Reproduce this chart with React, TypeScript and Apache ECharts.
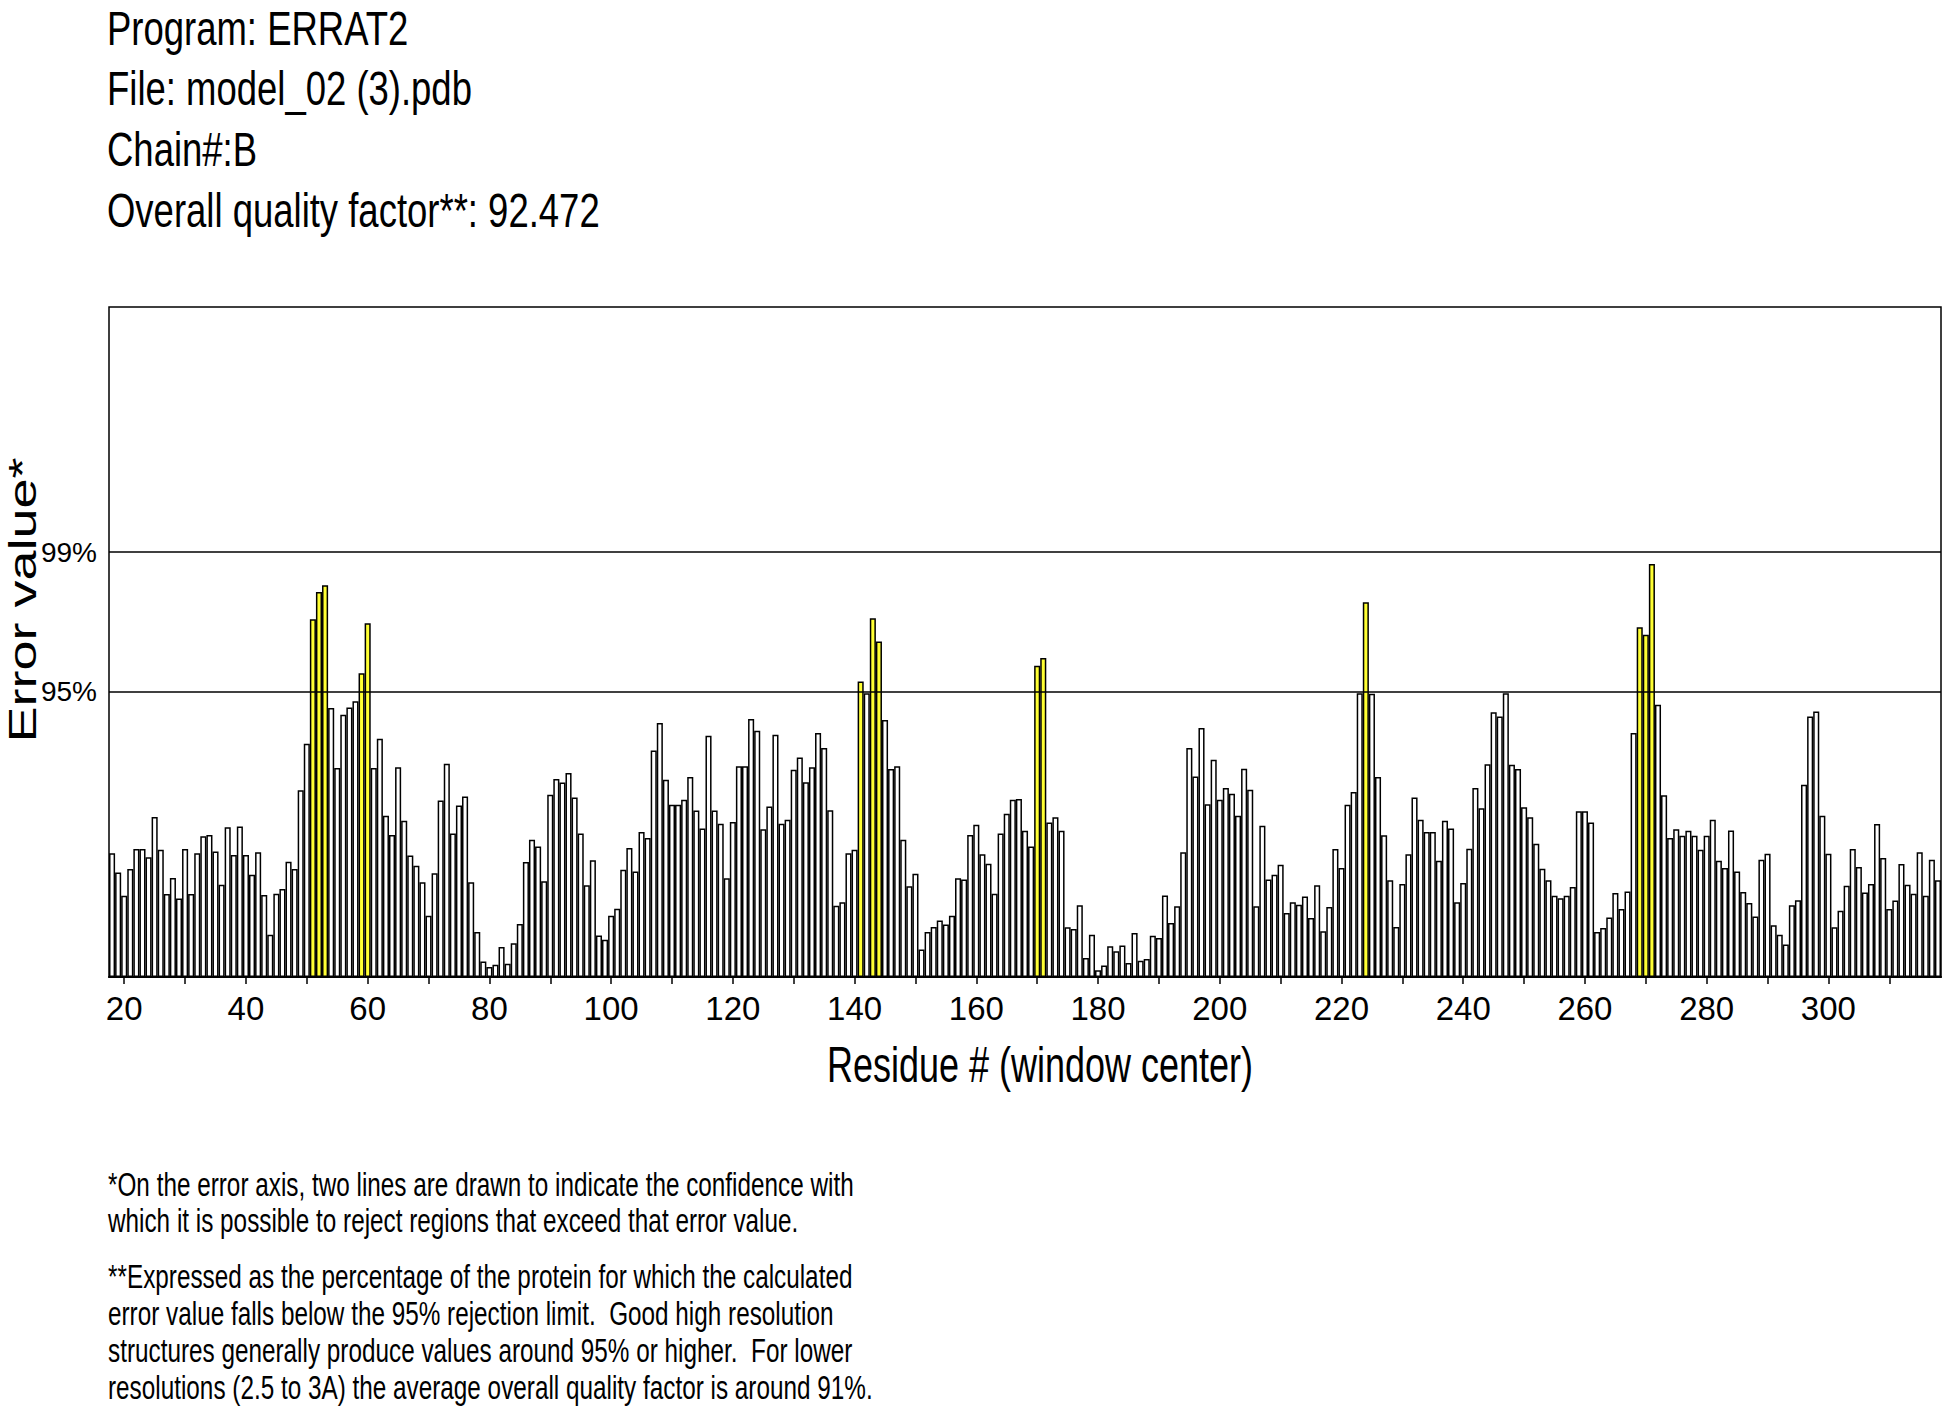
import React, { useEffect, useRef } from "react";
import * as echarts from "echarts";

// ERRAT2 error values per residue (window center), residues 18..318
const FIRST_RESIDUE = 18;
const errA = [
  5.01, 4.23, 3.29, 4.37, 5.18, 5.18, 4.84, 6.47, 5.15, 3.36,
  4.0, 3.18, 5.18, 3.36, 5.01, 5.69, 5.74, 5.08, 3.73, 6.06,
  4.93, 6.09, 4.93, 4.14, 5.05, 3.32, 1.71, 3.37, 3.56, 4.66,
  4.37, 7.55, 9.43, 14.47, 15.57, 15.85, 10.88, 8.45, 10.61, 10.9,
  11.15, 12.29, 14.31, 8.45, 9.64, 6.52, 5.74, 8.48, 6.32, 4.91,
]; // 18..67
const errB = [
  4.5, 3.83, 2.48, 4.2, 7.14, 8.63, 5.8, 6.94, 7.3, 3.83,
  1.82, 0.63, 0.4, 0.5, 1.21, 0.54, 1.37, 2.14, 4.65, 5.55,
  5.28, 3.87, 7.37, 8.01, 7.87, 8.25, 7.26, 5.8, 3.71, 4.72,
  1.68, 1.51, 2.48, 2.76, 4.34, 5.22, 4.27, 5.86, 5.62, 9.16,
  10.27, 7.98, 6.97, 6.97, 7.17, 8.09, 6.73, 6.01, 9.76, 6.73,
]; // 68..117
const errC = [
  6.2, 3.99, 6.27, 8.52, 8.52, 10.44, 9.96, 5.98, 6.9, 9.8,
  6.2, 6.36, 8.38, 8.88, 7.88, 8.48, 9.87, 9.26, 6.74, 2.88,
  3.02, 5.01, 5.15, 11.95, 11.48, 14.51, 13.57, 10.4, 8.41, 8.52,
  5.55, 3.67, 4.18, 1.11, 1.82, 2.02, 2.29, 2.12, 2.48, 3.99,
  3.94, 5.74, 6.16, 4.97, 4.58, 3.37, 5.8, 6.6, 7.17, 7.2,
]; // 118..167
const errD = [
  5.92, 5.28, 12.59, 12.9, 6.25, 6.46, 5.92, 2.01, 1.94, 2.9,
  0.77, 1.71, 0.27, 0.47, 1.24, 1.04, 1.27, 0.57, 1.78, 0.66,
  0.73, 1.67, 1.58, 3.3, 2.18, 2.86, 5.05, 9.26, 8.11, 10.07,
  6.99, 8.79, 7.17, 7.64, 7.41, 6.52, 8.42, 7.57, 2.86, 6.12,
  3.94, 4.14, 4.54, 2.59, 3.02, 2.92, 3.26, 2.39, 3.71, 1.85,
]; // 168..217
const errE = [
  2.83, 5.18, 4.41, 6.97, 7.48, 11.48, 15.16, 11.46, 8.09, 5.73,
  3.91, 2.02, 3.76, 4.97, 7.26, 6.36, 5.86, 5.86, 4.7, 6.32,
  6.01, 3.02, 3.8, 5.19, 7.64, 6.83, 8.61, 10.71, 10.54, 11.48,
  8.58, 8.41, 6.87, 6.46, 5.39, 4.38, 3.91, 3.29, 3.19, 3.29,
  3.64, 6.7, 6.7, 6.25, 1.82, 1.98, 2.41, 3.4, 2.75, 3.46,
]; // 218..267
const errF = [
  9.87, 14.15, 13.84, 16.7, 11.01, 7.35, 5.62, 5.98, 5.71, 5.92,
  5.71, 5.15, 5.71, 6.36, 4.7, 4.41, 5.93, 4.27, 3.44, 2.99,
  2.45, 4.74, 4.99, 2.09, 1.71, 1.31, 2.9, 3.1, 7.78, 10.54,
  10.74, 6.52, 4.99, 2.01, 2.68, 3.69, 5.18, 4.45, 3.42, 3.76,
  6.19, 4.81, 2.75, 3.09, 4.57, 3.73, 3.37, 5.05, 3.29, 4.74,
  3.91,
]; // 268..318

const errorValues = [...errA, ...errB, ...errC, ...errD, ...errE, ...errF];
const residues = errorValues.map((_, i) => String(FIRST_RESIDUE + i));

const LIMIT_95 = 11.526;
const LIMIT_99 = 17.19;
const Y_MAX = 27.1;
const limitLines = [
  { name: "95%", value: LIMIT_95 },
  { name: "99%", value: LIMIT_99 },
];

const titleLines = [
  "Program: ERRAT2",
  "File: model_02 (3).pdb",
  "Chain#:B",
  "Overall quality factor**: 92.472",
];
const footnoteLines = [
  "*On the error axis, two lines are drawn to indicate the confidence with",
  "which it is possible to reject regions that exceed that error value.",
  "**Expressed as the percentage of the protein for which the calculated",
  "error value falls below the 95% rejection limit.  Good high resolution",
  "structures generally produce values around 95% or higher.  For lower",
  "resolutions (2.5 to 3A) the average overall quality factor is around 91%.",
];
const xAxisName = "Residue # (window center)";
const yAxisName = "Error value*";

const FONT = "'Liberation Sans', Arial, Helvetica, sans-serif";

export default function App() {
  const ref = useRef<HTMLDivElement>(null);

  useEffect(() => {
    if (!ref.current) return;
    const chart = echarts.init(ref.current, null, { renderer: "svg" });

    const titleY = [28, 88, 149, 210];
    const footY = [1184, 1220, 1276, 1313, 1350, 1387];

    const graphic: any[] = [];
    titleLines.forEach((t, i) => {
      graphic.push({
        type: "text",
        x: 107,
        y: titleY[i],
        scaleX: 0.76,
        style: {
          text: t,
          fontSize: 48,
          fontFamily: FONT,
          fill: "#000",
          textAlign: "left",
          textVerticalAlign: "middle",
          verticalAlign: "middle",
        },
      });
    });
    footnoteLines.forEach((t, i) => {
      graphic.push({
        type: "text",
        x: 108,
        y: footY[i],
        scaleX: 0.715,
        style: {
          text: t,
          fontSize: 34,
          fontFamily: FONT,
          fill: "#000",
          textAlign: "left",
          textVerticalAlign: "middle",
          verticalAlign: "middle",
        },
      });
    });
    graphic.push({
      type: "text",
      x: 1040,
      y: 1065,
      scaleX: 0.72,
      style: {
        text: xAxisName,
        fontSize: 50,
        fontFamily: FONT,
        fill: "#000",
        textAlign: "center",
        textVerticalAlign: "middle",
        verticalAlign: "middle",
      },
    });
    graphic.push({
      type: "text",
      x: 22,
      y: 600,
      rotation: Math.PI / 2,
      scaleY: 0.72,
      style: {
        text: yAxisName,
        fontSize: 54,
        fontFamily: FONT,
        fill: "#000",
        textAlign: "center",
        textVerticalAlign: "middle",
        verticalAlign: "middle",
      },
    });

    const option: any = {
      animation: false,
      backgroundColor: "#ffffff",
      grid: {
        left: 109,
        right: 3,
        top: 307,
        bottom: 433,
        show: true,
        borderColor: "#000",
        borderWidth: 1.5,
        backgroundColor: "transparent",
        containLabel: false,
        outerBoundsMode: "none",
      },
      xAxis: {
        type: "category",
        data: residues,
        boundaryGap: true,
        axisLine: { show: true, lineStyle: { color: "#000", width: 2 } },
        axisTick: {
          show: true,
          alignWithLabel: true,
          interval: (_i: number, v: string) => Number(v) % 10 === 0,
          length: 7,
          lineStyle: { color: "#000", width: 1.5 },
        },
        axisLabel: {
          show: true,
          interval: (_i: number, v: string) => Number(v) % 20 === 0,
          color: "#000",
          fontSize: 33,
          fontFamily: FONT,
          margin: 15,
        },
        splitLine: { show: false },
      },
      yAxis: {
        type: "value",
        min: 0,
        max: Y_MAX,
        axisLine: { show: false },
        axisTick: { show: false },
        axisLabel: { show: false },
        splitLine: { show: false },
      },
      series: [
        {
          type: "bar",
          data: errorValues.map((v) => ({
            value: v,
            itemStyle: {
              color: v > LIMIT_99 ? "#ff0000" : v > LIMIT_95 ? "#ffff33" : "#ffffff",
            },
          })),
          barWidth: "100%",
          barCategoryGap: "0%",
          itemStyle: { borderColor: "#000", borderWidth: 1.5 },
          markLine: {
            silent: true,
            symbol: "none",
            animation: false,
            lineStyle: { color: "#000", width: 1.5, type: "solid" },
            label: {
              show: true,
              position: "start",
              color: "#000",
              fontSize: 28,
              fontFamily: FONT,
              distance: 12,
              formatter: (p: any) => p.name,
            },
            data: limitLines.map((l) => ({ yAxis: l.value, name: l.name })),
          },
        },
      ],
      graphic,
    };

    chart.setOption(option);
    return () => chart.dispose();
  }, []);

  return (
    <div
      ref={ref}
      style={{
        position: "absolute",
        left: 0,
        top: 0,
        width: 1944,
        height: 1410,
        background: "#fff",
      }}
    />
  );
}
